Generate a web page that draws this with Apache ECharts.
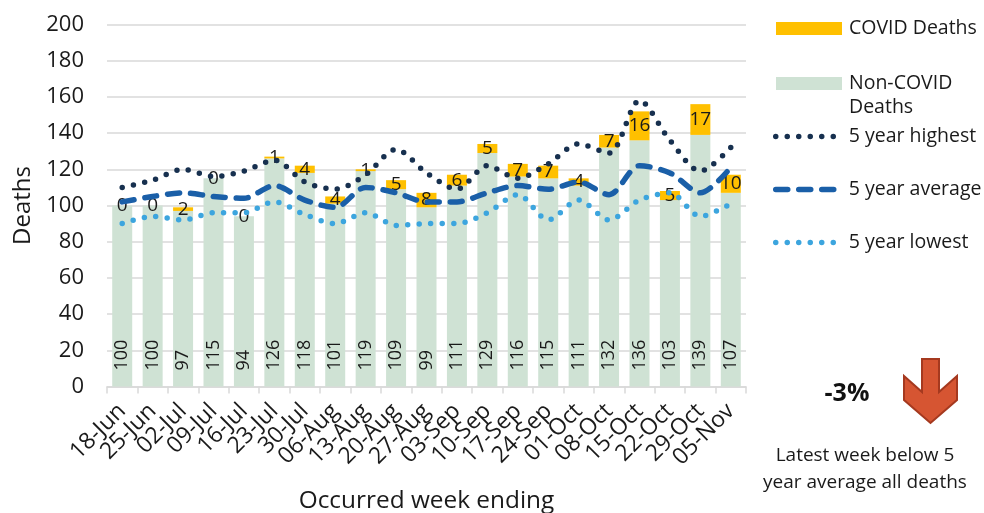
<!DOCTYPE html>
<html><head><meta charset="utf-8">
<style>html,body{margin:0;padding:0;background:#fff}#c{width:984px;height:513px}</style>
<script src="https://cdn.jsdelivr.net/npm/echarts@6/dist/echarts.min.js"></script>
</head><body><div id="c"></div>
<script>
const FONT = '"Open Sans", "Noto Sans", sans-serif';
const weeks = ['18-Jun','25-Jun','02-Jul','09-Jul','16-Jul','23-Jul','30-Jul','06-Aug','13-Aug','20-Aug','27-Aug','03-Sep','10-Sep','17-Sep','24-Sep','01-Oct','08-Oct','15-Oct','22-Oct','29-Oct','05-Nov'];
const nonCovid = [100,100,97,115,94,126,118,101,119,109,99,111,129,116,115,111,132,136,103,139,107];
const covid = [0,0,2,0,0,1,4,4,1,5,8,6,5,7,7,4,7,16,5,17,10];
const highest = [110,114,120,116,119,125,113,109,117,131,118,109,122,115,123,134,129,158,136,119,132];
const average = [102,105,107,105,104,111,103,99,110,107,102,102,107,111,109,113,106,122,118,107,121];
const lowest = [90,94,92,96,96,102,95,90,96,89,90,90,96,106,92,103,92,103,107,94,101];
const yTicks = {min:0,max:200,interval:20};
const DOT = [0,11.5], DASH = [12,11];

function legendAt(name, top, line, shown){
  const l = {show:true,data:[name],orient:'vertical',left:line?768:771,top:top,itemWidth:line?62:66,itemHeight:13,
    selectedMode:false,
    textStyle:{fontFamily:FONT,fontSize:19.5,color:'#1a1a1a',lineHeight:25,padding:[0,0,0,line?6:2]}};
  if(shown) l.formatter = () => shown;
  if(line){ l.lineStyle=line; l.itemStyle={opacity:0}; } else { l.icon='rect'; }
  return l;
}
function lineSeries(name,data,color,width,dash){
  return {name,type:'line',data,smooth:0.3,symbol:'none',z:5,
    lineStyle:{color,width,type:dash,cap:'round',join:'round'},itemStyle:{color},emphasis:{disabled:true}};
}
const chart = echarts.init(document.getElementById('c'),null,{renderer:'canvas'});
chart.setOption({
  animation:false,
  backgroundColor:'#fff',
  textStyle:{fontFamily:FONT},
  legend:[
    legendAt('COVID Deaths',11),
    legendAt('Non-COVID Deaths',66,null,'Non-COVID'),
    legendAt('5 year highest',119,{width:5.5,type:DOT,cap:'round',color:'#17304F'}),
    legendAt('5 year average',172,{width:5.5,type:DASH,cap:'round',color:'#1A5FA8'}),
    legendAt('5 year lowest',225,{width:5.5,type:DOT,cap:'round',color:'#3CA5DE'})
  ],
  grid:{left:107,right:238,top:24.5,bottom:126.5,containLabel:false,outerBoundsMode:'none'},
  xAxis:{type:'category',data:weeks,
    name:'Occurred week ending',nameLocation:'middle',nameGap:103,
    nameTextStyle:{fontFamily:FONT,fontSize:24.4,color:'#1a1a1a'},
    axisLine:{lineStyle:{color:'#d9d9d9',width:1.5}},
    axisTick:{show:true,alignWithLabel:false,length:7,lineStyle:{color:'#d9d9d9',width:1.5}},
    axisLabel:{rotate:45,interval:0,fontFamily:FONT,fontSize:23,color:'#1a1a1a',margin:21}},
  yAxis:{type:'value',...yTicks,
    name:'Deaths',nameLocation:'middle',nameGap:71,
    nameTextStyle:{fontFamily:FONT,fontSize:24,color:'#1a1a1a'},
    axisLine:{show:false},axisTick:{show:false},
    splitLine:{lineStyle:{color:'#d9d9d9',width:1.5}},
    axisLabel:{fontFamily:FONT,fontSize:22,color:'#1a1a1a',margin:23}},
  series:[
    {name:'Non-COVID Deaths',type:'bar',stack:'d',data:nonCovid,barWidth:20,z:2,
      itemStyle:{color:'#CFE2D4'},
      label:{show:true,position:'insideBottom',rotate:90,align:'left',verticalAlign:'middle',distance:16,
        fontFamily:FONT,fontSize:18,color:'#1a1a1a'}},
    {name:'COVID Deaths',type:'bar',stack:'d',data:covid,barWidth:20,z:2,
      itemStyle:{color:'#FFC000'},
      label:{show:true,position:'inside',fontFamily:FONT,fontSize:19,color:'#1a1a1a'},
      labelLayout:{hideOverlap:false}},
    lineSeries('5 year highest',highest,'#17304F',5.5,DOT),
    lineSeries('5 year average',average,'#1A5FA8',5.5,DASH),
    lineSeries('5 year lowest',lowest,'#3CA5DE',5.5,DOT)
  ],
  graphic:[
    {type:'text',x:849,y:107,style:{text:'Deaths',font:'19.5px '+FONT,fill:'#1a1a1a',align:'left',verticalAlign:'middle'}},
    {type:'text',x:847,y:394,style:{text:'-3%',font:'bold 25px '+FONT,fill:'#111',align:'center',verticalAlign:'middle'}},
    {type:'text',x:865,y:442,style:{text:'Latest week below 5\nyear average all deaths',font:'19px '+FONT,fill:'#1a1a1a',align:'center',verticalAlign:'top',lineHeight:27}},
    {type:'polygon',shape:{points:[[922,359],[939,359],[939,392],[957,376],[957,400],[930.5,423],[904,400],[904,376],[922,392]]},
      style:{fill:'#D65532',stroke:'#A5391F',lineWidth:2}}
  ]
});
</script></body></html>
